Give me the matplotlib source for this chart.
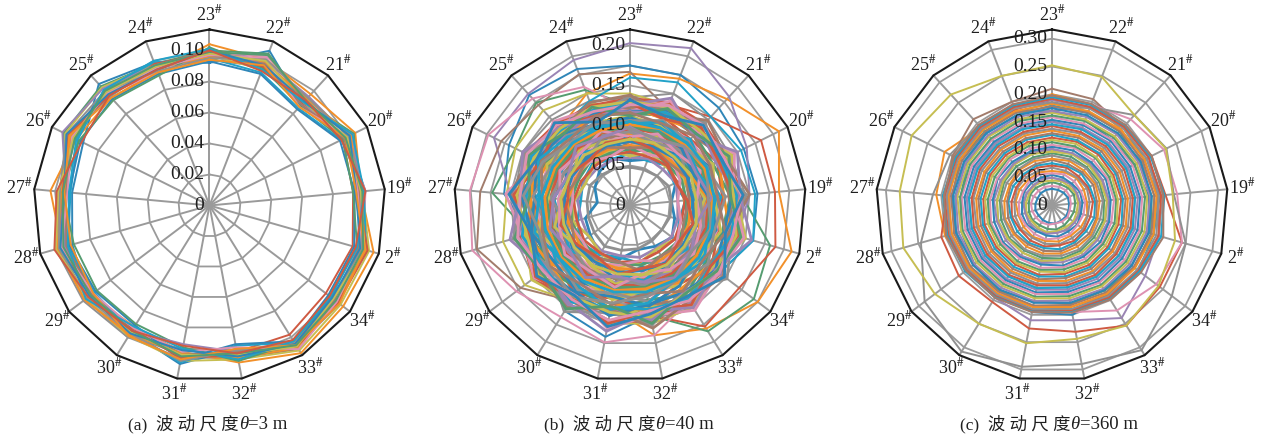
import matplotlib
matplotlib.use("Agg")
import matplotlib.pyplot as plt
import numpy as np

plt.rcParams['font.family'] = ['Liberation Serif', 'Noto Sans CJK SC']
plt.rcParams['mathtext.fontset'] = 'stix'
# softer than the stock cycle, the print is a bit washed out
plt.rcParams['axes.prop_cycle'] = plt.cycler(color=['#2f86b8', '#f2902a', '#559c70', '#cf5a42', '#9a84b4',
                                                    '#a27c6c', '#de92b2', '#909090', '#c6be52', '#22a2c8'])

# spoke order, clockwise from the top
stations = ['23', '22', '21', '20', '19', '2', '34', '33', '32', '31', '30', '29', '28', '27', '26', '25', '24']

# all series below are in thousandths, one value per station
series_a = [
    [92, 107, 88, 99, 101, 100, 103, 108, 94, 104, 96, 98, 92, 89, 91, 106, 99],
    [104, 101, 97, 105, 98, 110, 108, 112, 103, 96, 92, 96, 99, 103, 96, 94, 93],
    [100, 105, 91, 104, 96, 106, 100, 108, 99, 97, 94, 99, 101, 94, 105, 104, 98],
    [98, 97, 90, 96, 93, 96, 94, 98, 96, 100, 94, 94, 96, 96, 98, 99, 94],
    [96, 100, 95, 100, 100, 102, 104, 106, 98, 95, 97, 101, 100, 96, 101, 96, 95],
    [101, 99, 92, 102, 94, 104, 102, 109, 100, 98, 98, 95, 102, 95, 97, 100, 96],
    [99, 103, 93, 98, 101, 103, 99, 105, 97, 99, 93, 97, 98, 93, 100, 97, 92],
    [94, 96, 94, 101, 97, 101, 105, 107, 95, 94, 100, 102, 103, 97, 102, 95, 97],
    [97, 94, 89, 97, 99, 107, 106, 110, 101, 102, 99, 100, 100, 92, 104, 103, 98],
    [95, 92, 85, 95, 100, 105, 98, 104, 92, 103, 96, 93, 95, 90, 95, 101, 99],
    [93, 91, 84, 94, 94, 97, 96, 103, 91, 101, 91, 92, 94, 91, 93, 93, 91],
    [102, 95, 87, 96, 93, 99, 97, 104, 102, 93, 90, 91, 91, 95, 94, 92, 90],
    [99, 98, 88, 103, 98, 100, 101, 106, 96, 91, 95, 96, 97, 93, 106, 102, 97],
    [97, 102, 86, 100, 96, 102, 103, 109, 93, 96, 93, 94, 99, 92, 99, 98, 95],
    [98, 100, 90, 99, 98, 104, 100, 107, 98, 98, 96, 98, 103, 98, 98, 99, 96],
    [100, 97, 91, 101, 95, 101, 99, 105, 99, 95, 97, 97, 100, 94, 103, 97, 94],
    [99, 104, 92, 98, 99, 103, 102, 106, 97, 99, 95, 96, 98, 95, 97, 100, 97],
    [96, 99, 93, 102, 97, 105, 103, 108, 100, 97, 98, 101, 102, 96, 100, 98, 95],
    [98, 96, 89, 99, 96, 106, 104, 107, 98, 100, 94, 99, 97, 95, 102, 96, 98],
    [97, 98, 88, 97, 97, 100, 101, 105, 96, 98, 96, 95, 96, 93, 99, 99, 96],
    [95, 101, 94, 100, 99, 102, 100, 104, 95, 102, 97, 99, 101, 97, 103, 100, 93],
    [101, 94, 90, 103, 100, 99, 98, 103, 101, 94, 92, 100, 95, 91, 96, 101, 100],
    [94, 97, 86, 98, 95, 104, 105, 106, 94, 101, 99, 94, 93, 94, 101, 94, 92],
    [100, 93, 92, 95, 101, 98, 97, 102, 97, 92, 95, 98, 104, 99, 92, 96, 94],
]

series_b = [
    [175, 175, 165, 159, 160, 160, 140, 130, 140, 167, 155, 130, 130, 158, 169, 187, 183],
    [165, 170, 180, 208, 187, 210, 200, 181, 165, 130, 125, 120, 120, 120, 130, 130, 150],
    [125, 130, 125, 130, 140, 182, 194, 185, 140, 130, 125, 125, 130, 173, 160, 174, 155],
    [130, 135, 150, 183, 182, 189, 171, 178, 140, 125, 120, 125, 125, 130, 125, 130, 125],
    [203, 211, 184, 163, 150, 140, 130, 130, 120, 130, 130, 135, 140, 150, 190, 189, 195],
    [167, 130, 125, 130, 125, 130, 130, 135, 130, 135, 140, 171, 199, 188, 180, 170, 176],
    [120, 125, 130, 130, 125, 135, 130, 140, 165, 174, 164, 178, 205, 201, 198, 181, 159],
    [135, 150, 145, 140, 145, 140, 135, 150, 145, 150, 145, 140, 150, 145, 150, 145, 140],
    [140, 135, 130, 135, 140, 145, 140, 150, 150, 150, 140, 165, 165, 155, 160, 161, 150],
    [160, 165, 150, 155, 157, 160, 140, 135, 130, 135, 130, 130, 135, 130, 135, 130, 140],
    [56, 62, 70, 64, 52, 58, 66, 60, 56, 68, 72, 62, 58, 41, 49, 57, 63],
    [65, 60, 68, 62, 70, 64, 74, 80, 74, 66, 72, 78, 68, 62, 66, 70, 62],
    [62, 70, 66, 74, 68, 76, 70, 64, 72, 78, 70, 64, 74, 70, 62, 68, 74],
    [48, 48, 50, 54, 52, 52, 50, 52, 55, 57, 60, 56, 54, 54, 56, 52, 50],
    [76, 68, 78, 70, 60, 66, 74, 82, 70, 76, 84, 74, 80, 72, 80, 74, 66],
    [72, 78, 72, 80, 74, 70, 80, 74, 84, 72, 78, 86, 76, 84, 74, 80, 78],
    [84, 76, 70, 64, 72, 82, 76, 86, 80, 88, 76, 82, 90, 78, 86, 76, 84],
    [78, 86, 80, 74, 84, 76, 88, 78, 90, 82, 92, 80, 74, 88, 72, 84, 70],
    [70, 80, 86, 82, 76, 88, 82, 92, 78, 94, 84, 90, 84, 76, 90, 82, 88],
    [88, 74, 84, 90, 80, 72, 90, 84, 96, 86, 80, 94, 88, 96, 84, 90, 76],
    [82, 92, 76, 86, 94, 84, 78, 96, 88, 100, 90, 84, 98, 86, 80, 94, 86],
    [92, 84, 94, 78, 88, 96, 86, 90, 102, 92, 98, 88, 82, 100, 92, 78, 94],
    [86, 96, 88, 98, 84, 92, 100, 94, 86, 104, 96, 102, 92, 88, 98, 90, 100],
    [98, 88, 100, 92, 102, 86, 96, 106, 98, 90, 106, 94, 104, 96, 86, 100, 92],
    [94, 102, 90, 104, 96, 100, 92, 102, 110, 100, 92, 108, 98, 106, 100, 94, 104],
    [104, 94, 106, 96, 108, 94, 104, 98, 106, 112, 102, 96, 110, 98, 108, 102, 96],
    [100, 108, 98, 110, 92, 110, 98, 112, 100, 108, 114, 104, 94, 112, 104, 98, 108],
    [108, 100, 112, 102, 114, 104, 112, 102, 116, 106, 100, 116, 108, 118, 96, 110, 102],
    [112, 106, 102, 116, 106, 118, 108, 118, 108, 120, 110, 104, 120, 102, 116, 106, 112],
    [106, 114, 108, 106, 120, 110, 122, 110, 122, 112, 124, 112, 106, 122, 110, 118, 110],
    [116, 110, 118, 112, 110, 124, 114, 126, 112, 126, 116, 126, 114, 110, 124, 112, 120],
    [120, 118, 112, 122, 116, 114, 128, 116, 130, 118, 130, 118, 128, 116, 112, 126, 116],
    [114, 122, 120, 116, 126, 120, 118, 132, 120, 134, 122, 132, 120, 130, 118, 114, 122],
    [124, 116, 126, 124, 118, 130, 124, 122, 136, 124, 136, 124, 134, 124, 132, 120, 118],
    [118, 126, 122, 130, 128, 122, 134, 128, 126, 140, 128, 138, 128, 136, 126, 134, 124],
    [128, 124, 130, 126, 134, 132, 126, 138, 132, 130, 142, 132, 140, 130, 138, 128, 128],
    [130, 132, 128, 136, 130, 138, 136, 130, 142, 136, 134, 144, 134, 142, 134, 130, 132],
    [126, 134, 136, 132, 140, 134, 140, 140, 134, 146, 138, 136, 146, 138, 144, 136, 126],
    [132, 128, 134, 140, 136, 142, 132, 144, 144, 138, 148, 140, 138, 148, 140, 132, 130],
    [134, 138, 138, 134, 142, 136, 142, 136, 148, 146, 140, 150, 142, 140, 146, 138, 134],
    [68, 74, 82, 90, 86, 94, 100, 92, 104, 98, 110, 100, 112, 104, 114, 106, 80],
    [90, 82, 74, 84, 98, 90, 106, 114, 106, 118, 108, 122, 116, 126, 116, 96, 100],
    [110, 104, 96, 88, 100, 112, 104, 118, 128, 116, 126, 118, 128, 120, 130, 122, 110],
    [102, 112, 104, 94, 108, 102, 116, 108, 124, 132, 120, 110, 124, 114, 128, 116, 106],
    [96, 90, 100, 108, 98, 106, 96, 110, 116, 124, 134, 128, 118, 134, 122, 108, 114],
    [74, 82, 92, 100, 110, 98, 88, 98, 92, 84, 96, 106, 116, 128, 108, 88, 96],
    [60, 63, 61, 64, 60, 62, 65, 63, 66, 64, 67, 65, 63, 66, 64, 62, 61],
    [67, 65, 68, 66, 69, 67, 70, 68, 71, 72, 70, 72, 69, 71, 68, 66, 68],
    [71, 73, 70, 72, 71, 73, 75, 74, 76, 74, 77, 75, 76, 74, 72, 74, 70],
    [75, 77, 76, 78, 75, 77, 79, 78, 81, 80, 82, 79, 80, 78, 76, 77, 75],
    [80, 79, 81, 80, 79, 82, 83, 84, 83, 85, 83, 84, 85, 82, 81, 80, 80],
    [83, 84, 82, 85, 83, 86, 85, 87, 88, 87, 88, 87, 86, 87, 84, 85, 82],
    [87, 86, 88, 87, 88, 87, 90, 89, 91, 90, 93, 91, 92, 90, 88, 87, 86],
    [90, 91, 89, 92, 91, 92, 93, 94, 95, 94, 95, 94, 93, 95, 92, 91, 90],
    [93, 92, 94, 95, 93, 96, 95, 97, 97, 98, 99, 98, 97, 98, 96, 94, 93],
    [96, 97, 96, 97, 98, 99, 98, 100, 101, 102, 101, 100, 102, 100, 99, 97, 95],
    [99, 98, 100, 101, 100, 102, 102, 103, 104, 104, 105, 104, 103, 105, 102, 100, 99],
    [101, 103, 102, 104, 103, 105, 104, 107, 106, 108, 107, 108, 107, 107, 105, 104, 101],
    [105, 104, 106, 107, 106, 107, 108, 109, 110, 110, 111, 110, 110, 111, 108, 106, 105],
    [107, 108, 107, 109, 110, 111, 110, 113, 113, 114, 113, 114, 112, 113, 112, 109, 107],
    [110, 109, 111, 112, 112, 113, 114, 115, 116, 116, 117, 116, 116, 116, 114, 112, 110],
    [123, 128, 118, 132, 124, 136, 122, 138, 126, 140, 128, 144, 124, 140, 120, 132, 116],
    [117, 124, 130, 120, 136, 126, 142, 128, 146, 132, 148, 130, 146, 128, 136, 118, 128],
    [128, 116, 132, 124, 130, 140, 126, 146, 134, 150, 136, 148, 132, 146, 124, 134, 120],
    [112, 130, 122, 138, 126, 144, 136, 130, 150, 128, 152, 138, 150, 126, 142, 122, 132],
    [132, 120, 136, 128, 142, 124, 148, 134, 138, 154, 132, 146, 128, 152, 130, 140, 112],
    [122, 134, 126, 142, 134, 150, 128, 148, 128, 148, 140, 154, 136, 144, 138, 126, 136],
    [136, 126, 140, 120, 146, 132, 152, 124, 152, 136, 156, 126, 152, 134, 148, 120, 124],
    [118, 140, 124, 146, 130, 148, 138, 154, 140, 156, 130, 150, 140, 156, 128, 142, 130],
    [138, 122, 144, 134, 150, 128, 146, 140, 156, 132, 150, 142, 130, 150, 140, 128, 138],
    [126, 144, 118, 150, 138, 158, 134, 150, 134, 160, 144, 134, 156, 138, 150, 132, 118],
]

series_c = [
    [170, 165, 160, 165, 175, 180, 180, 185, 200, 195, 185, 175, 170, 165, 170, 170, 165],
    [200, 195, 185, 180, 185, 190, 185, 190, 185, 185, 180, 185, 200, 209, 216, 190, 185],
    [185, 180, 180, 175, 180, 185, 185, 180, 180, 175, 180, 175, 180, 180, 185, 180, 180],
    [190, 190, 195, 200, 205, 243, 243, 254, 231, 225, 204, 210, 207, 190, 185, 185, 185],
    [190, 190, 195, 195, 190, 200, 210, 238, 210, 210, 195, 190, 190, 185, 190, 190, 190],
    [210, 205, 190, 185, 190, 190, 185, 190, 190, 185, 185, 190, 190, 190, 200, 210, 200],
    [195, 195, 210, 225, 226, 243, 235, 222, 195, 190, 185, 190, 190, 190, 195, 195, 195],
    [170, 190, 220, 230, 220, 250, 270, 306, 290, 295, 309, 287, 245, 215, 205, 195, 180],
    [252, 248, 220, 229, 218, 230, 240, 254, 244, 252, 250, 264, 278, 275, 282, 270, 250],
    [180, 178, 182, 190, 195, 190, 195, 195, 190, 190, 190, 185, 180, 175, 175, 175, 175],
    [30, 30, 31, 32, 31, 31, 32, 32, 33, 32, 31, 30, 31, 30, 29, 30, 30],
    [35, 36, 37, 36, 34, 33, 35, 34, 33, 35, 36, 36, 37, 38, 37, 36, 36],
    [42, 41, 43, 44, 42, 41, 40, 42, 44, 43, 42, 44, 43, 42, 44, 43, 41],
    [45, 47, 46, 48, 47, 46, 48, 46, 47, 49, 47, 46, 48, 47, 46, 48, 46],
    [50, 49, 52, 50, 51, 53, 51, 52, 50, 52, 54, 52, 50, 52, 51, 49, 51],
    [55, 54, 53, 56, 55, 54, 57, 55, 57, 55, 54, 57, 56, 54, 56, 55, 54],
    [58, 60, 59, 58, 60, 59, 58, 61, 60, 62, 60, 59, 61, 60, 58, 60, 60],
    [62, 64, 66, 64, 63, 66, 65, 64, 66, 65, 66, 64, 63, 66, 65, 63, 64],
    [68, 67, 68, 70, 68, 67, 70, 69, 71, 70, 68, 70, 69, 68, 70, 69, 67],
    [72, 73, 71, 73, 74, 72, 73, 75, 73, 75, 74, 72, 75, 73, 72, 74, 73],
    [76, 76, 78, 76, 78, 79, 77, 78, 80, 78, 79, 78, 77, 79, 78, 76, 77],
    [82, 80, 81, 83, 81, 83, 84, 82, 84, 83, 82, 84, 82, 81, 83, 82, 80],
    [84, 86, 85, 87, 86, 85, 88, 87, 88, 88, 87, 86, 88, 86, 85, 87, 86],
    [90, 89, 91, 90, 92, 90, 91, 93, 92, 92, 93, 91, 90, 92, 91, 89, 90],
    [94, 94, 93, 95, 94, 96, 95, 96, 97, 96, 95, 97, 95, 94, 96, 95, 93],
    [97, 99, 98, 97, 99, 99, 101, 100, 100, 102, 100, 99, 101, 99, 98, 100, 99],
    [102, 101, 103, 102, 103, 105, 103, 105, 104, 105, 106, 104, 103, 105, 103, 102, 103],
    [106, 106, 105, 108, 106, 107, 109, 108, 110, 108, 109, 110, 108, 107, 109, 106, 105],
    [109, 111, 110, 111, 112, 111, 113, 113, 113, 114, 112, 113, 114, 112, 110, 112, 110],
    [114, 114, 116, 115, 116, 117, 115, 118, 117, 118, 118, 116, 117, 116, 115, 116, 115],
    [118, 119, 118, 120, 119, 121, 120, 121, 122, 121, 122, 121, 120, 121, 120, 118, 119],
    [122, 123, 124, 123, 125, 124, 125, 126, 125, 127, 125, 125, 126, 124, 124, 123, 122],
    [127, 126, 127, 128, 128, 130, 128, 130, 130, 130, 130, 129, 129, 129, 128, 127, 127],
    [130, 131, 132, 131, 133, 133, 134, 134, 133, 135, 134, 134, 133, 133, 133, 131, 130],
    [135, 134, 136, 136, 137, 138, 137, 139, 138, 138, 139, 137, 138, 137, 136, 136, 135],
    [138, 139, 140, 140, 142, 142, 142, 142, 142, 143, 142, 142, 141, 142, 141, 139, 139],
    [143, 142, 144, 145, 146, 147, 145, 147, 146, 146, 147, 146, 146, 145, 145, 144, 142],
    [146, 147, 148, 149, 150, 151, 150, 151, 150, 151, 150, 150, 150, 150, 149, 147, 147],
    [151, 150, 152, 153, 155, 155, 154, 155, 154, 154, 155, 154, 154, 154, 153, 152, 150],
    [154, 155, 157, 157, 159, 160, 158, 160, 158, 159, 158, 158, 158, 158, 157, 155, 155],
    [159, 158, 160, 162, 163, 164, 163, 163, 162, 162, 162, 162, 162, 163, 161, 160, 158],
    [162, 163, 165, 166, 168, 168, 167, 168, 166, 167, 166, 166, 167, 166, 165, 163, 163],
    [167, 166, 168, 170, 172, 173, 171, 171, 170, 170, 170, 170, 170, 171, 169, 168, 166],
    [170, 171, 173, 174, 177, 177, 175, 176, 174, 175, 174, 175, 175, 174, 173, 171, 171],
    [175, 174, 176, 178, 180, 181, 179, 179, 178, 178, 178, 178, 179, 179, 177, 176, 174],
    [178, 179, 181, 182, 185, 186, 184, 184, 182, 183, 182, 183, 183, 182, 181, 179, 179],
    [183, 182, 184, 186, 189, 190, 187, 187, 186, 186, 186, 186, 187, 187, 185, 184, 182],
    [186, 187, 189, 190, 193, 195, 192, 192, 190, 190, 189, 190, 191, 190, 189, 187, 187],
    [192, 190, 192, 194, 197, 199, 195, 195, 193, 193, 192, 193, 194, 194, 192, 191, 190],
    [195, 194, 195, 198, 203, 204, 197, 198, 195, 194, 194, 196, 196, 197, 194, 194, 193],
    [198, 196, 196, 200, 201, 208, 200, 199, 196, 195, 195, 194, 198, 195, 197, 196, 195],
]

rmax_list = [0.1135, 0.22, 0.3165]
ring_a = [0.02, 0.04, 0.06, 0.08, 0.10]
ring_b = [0.025, 0.05, 0.075, 0.10, 0.125, 0.15, 0.175, 0.20]
ring_c = [0.05, 0.10, 0.15, 0.20, 0.25, 0.30]
rlabels_a = ['0', '0.02', '0.04', '0.06', '0.08', '0.10']
rlabels_b = ['0', '0.05', '0.10', '0.15', '0.20']
rlabels_c = ['0', '0.05', '0.10', '0.15', '0.20', '0.25', '0.30']
rlabel_pos_a = [0, 0.02, 0.04, 0.06, 0.08, 0.10]
rlabel_pos_b = [0, 0.05, 0.10, 0.15, 0.20]
rlabel_pos_c = [0, 0.05, 0.10, 0.15, 0.20, 0.25, 0.30]
captions = [('(a)  波 动 尺 度', '=3 m'), ('(b)  波 动 尺 度', '=40 m'), ('(c)  波 动 尺 度', '=360 m')]

W, H = 1266, 434
R = 176
centers = [209.5, 630, 1052]
caption_left = [128, 544, 960]
text_color = '#1f1f1f'
# fewer rows than the original had lines, so b needs them a bit thicker to fill in
line_widths = [1.4, 2.0, 1.5]

fig = plt.figure(figsize=(W / 100, H / 100), dpi=100)

# closed polygon angles
theta = np.arange(18) * 2 * np.pi / 17

all_series = [series_a, series_b, series_c]
all_rings = [ring_a, ring_b, ring_c]
all_labels = [rlabels_a, rlabels_b, rlabels_c]
all_pos = [rlabel_pos_a, rlabel_pos_b, rlabel_pos_c]

for i in range(3):
    ax = fig.add_axes([(centers[i] - R) / W, (H - 205.5 - R) / H, 2 * R / W, 2 * R / H], projection='polar')
    ax.set_theta_zero_location('N')
    ax.set_theta_direction(-1)
    ax.set_ylim(0, rmax_list[i])
    ax.axis('off')

    for r in all_rings[i]:
        ax.plot(theta, [r] * 18, color='#9a9a9a', lw=1.3, zorder=1, clip_on=False)
    for t in theta[:-1]:
        ax.plot([t, t], [0, rmax_list[i]], color='#9a9a9a', lw=1.4, zorder=1, clip_on=False)

    # mix the levels so the colours do not stack up in order, outliers stay first
    rows = all_series[i][:10]
    for k in range(7):
        rows = rows + all_series[i][10 + k::7]
    for n, row in enumerate(rows):
        vals = np.array(row + row[:1]) / 1000
        # the lone outliers keep the thin line
        ax.plot(theta, vals, lw=1.4 if n < 10 else line_widths[i], zorder=2, clip_on=False)

    ax.plot(theta, [rmax_list[i]] * 18, color='#1a1a1a', lw=1.5, zorder=3, clip_on=False)

    for t, name in zip(theta[:-1], stations):
        ax.text(t, rmax_list[i] * 1.085, name + r'$^{\#}$', fontsize=13, ha='center', va='center', color=text_color)

    for lab, p in zip(all_labels[i], all_pos[i]):
        ax.annotate(lab, (0, p), xytext=(-5, 0), textcoords='offset pixels', fontsize=14,
                    ha='right', va='center', color=text_color, zorder=5)

    # caption in three pieces so theta can be italic
    x = caption_left[i]
    for piece, st, fs in [(captions[i][0], 'normal', 12.5), ('θ', 'italic', 13.5), (captions[i][1], 'normal', 13.5)]:
        t1 = fig.text(x / W, 1 - 429 / H, piece, fontsize=fs, style=st, color=text_color)
        x = t1.get_window_extent(fig.canvas.get_renderer()).x1

fig.savefig('out.png', dpi=100)
